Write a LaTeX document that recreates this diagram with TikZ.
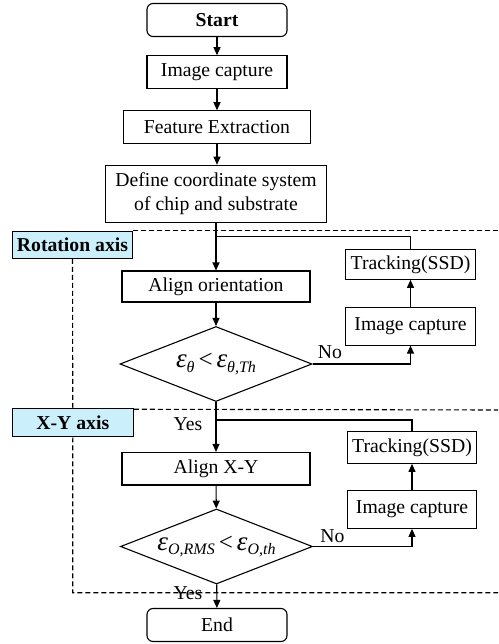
\documentclass[tikz,border=0pt]{standalone}
\usepackage{fontspec}
\setmainfont{Liberation Serif}
\usetikzlibrary{shapes.geometric,arrows.meta}
\newcommand\epsi{{\fontsize{27}{27}\selectfont\itshape ε}}
\newcommand\subtxt[1]{\raisebox{-0.5ex}{\fontsize{16}{16}\selectfont\itshape #1}}
\newcommand\lessop{\hspace{4pt}{\fontsize{25}{25}\selectfont <}\hspace{4pt}}
\begin{document}
\begin{tikzpicture}[x=1pt,y=-1pt,
  every node/.style={font=\fontsize{19.7}{24}\selectfont},
  box/.style={draw, line width=1.1pt, inner sep=0pt, minimum height=33pt, align=center},
  term/.style={box, rounded corners=6pt, minimum width=140pt},
  dec/.style={draw, diamond, line width=1.1pt, inner sep=0pt, aspect=2.56, minimum width=192pt, minimum height=75pt},
  tag/.style={draw, line width=1.1pt, fill=cyan!20, font=\bfseries\fontsize{19.7}{24}\selectfont, inner sep=0pt},
  lbl/.style={inner sep=0pt},
  arr/.style={line width=1.1pt, -{Triangle[length=8pt,width=7pt]}},
  ln/.style={line width=1.1pt},
  dsh/.style={line width=1.1pt, dash pattern=on 5pt off 3pt}
]
\useasboundingbox (0,0) rectangle (498,644);
% main column
\node[term] (start) at (217,20) {\textbf{Start}};
\node[box, minimum width=140pt] (img) at (217,72.3) {Image capture};
\node[box, minimum width=187pt] (feat) at (217,127.3) {Feature Extraction};
\node[box, minimum width=221pt, minimum height=57.5pt] (def) at (216,194) {Define coordinate system\\of chip and substrate};
\node[box, minimum width=188pt, minimum height=31pt] (alo) at (216,286.5) {Align orientation};
\node[dec] (d1) at (216,364) {\epsi\subtxt{θ}\lessop\epsi\subtxt{θ,Th}};
\node[box, minimum width=188pt, minimum height=32.5pt] (axy) at (216,468.7) {Align X-Y};
\node[dec] (d2) at (216.5,546.5) {\epsi\subtxt{O,RMS}\lessop\epsi\subtxt{O,th}};
\node[term] (end) at (217,625) {End};
% right loops
\node[box, minimum width=130pt, minimum height=30pt] (trk1) at (410.5,264.3) {Tracking(SSD)};
\node[box, minimum width=130pt, minimum height=37.7pt] (cap1) at (410.5,326.2) {Image capture};
\node[box, minimum width=129pt, minimum height=31.6pt] (trk2) at (412,447.5) {Tracking(SSD)};
\node[box, minimum width=129pt, minimum height=38.3pt] (cap2) at (412,509.2) {Image capture};
% tags
\node[tag, minimum width=120.4pt, minimum height=27.3pt] (rot) at (72.5,244.7) {Rotation axis};
\node[tag, minimum width=121pt, minimum height=28.4pt] (xy) at (72.8,422.5) {X-Y axis};
% labels
\node[lbl] (no1) at (330,352) {No};
\node[lbl] (no2) at (332.5,536) {No};
\node[lbl] (yes1) at (188,424) {Yes};
\node[lbl] (yes2) at (188,593) {Yes};
% coordinates
\coordinate (j1) at (216,236.7);
\coordinate (j2) at (216,420);
\coordinate (e1) at (498,231.5);
\coordinate (e2) at (498,410);
\coordinate (c3) at (72.7,592.7);
\coordinate (e3) at (498,592.7);
% connectors
\draw[arr] (start) -- (img);
\draw[arr] (img) -- (feat);
\draw[arr] (feat) -- (def.north -| feat.south);
\draw[arr] (def) -- (alo);
\draw[arr] (alo) -- (d1);
\draw[arr] (d1) -- (axy);
\draw[arr] (axy) -- (d2);
\draw[arr] (d2) -- (end);
\draw[ln] (trk1.north) |- (j1);
\draw[ln] (trk2.north) |- (j2);
\draw[arr] (cap1) -- (trk1);
\draw[arr] (cap2) -- (trk2);
\draw[arr] (d1.east) -| (cap1.south);
\draw[arr] (d2.east) -| (cap2.south);
% dashed region lines
\draw[dsh] (rot.north east) -- (rot.north east -| e1);
\draw[dsh] (xy.north east) ++(0,1.5) -- (e2);
\draw[dsh] (rot.south) -- (xy.north);
\draw[dsh] (xy.south) -- (c3) -- (e3);
\end{tikzpicture}
\end{document}
